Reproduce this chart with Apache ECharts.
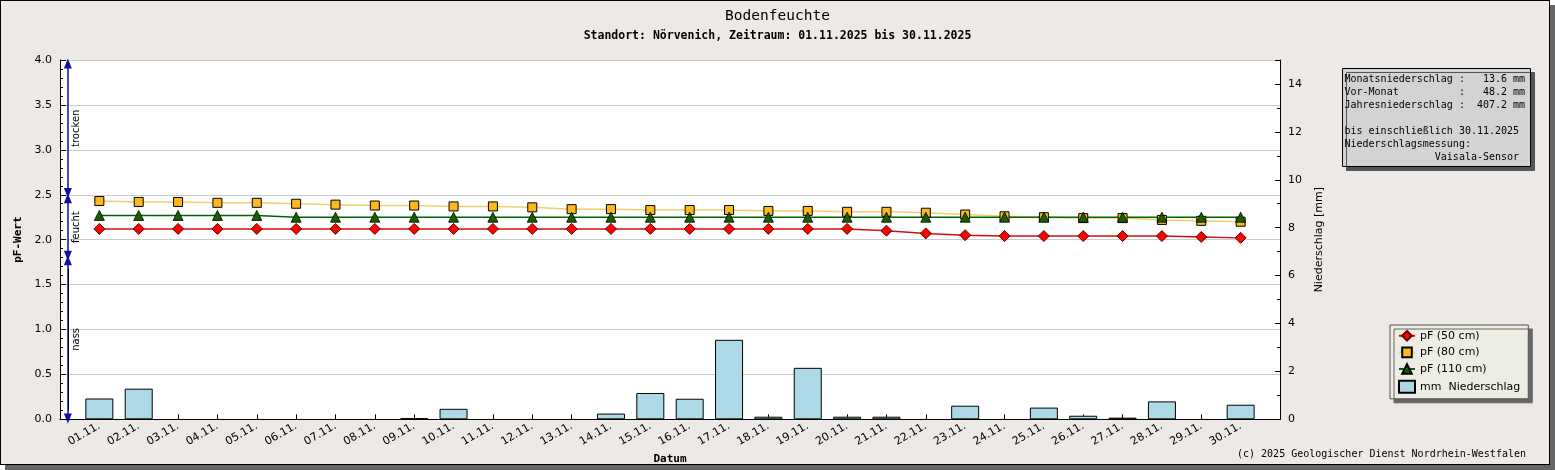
<!DOCTYPE html>
<html>
<head>
<meta charset="utf-8">
<script src="https://cdn.jsdelivr.net/npm/echarts@6/dist/echarts.min.js"></script>
<style>
    body { margin: 0; background: #fff; }
    #frame {
        position: absolute; left: 0; top: 0;
        width: 1548px; height: 463px;
        background: #ECE9E7;
        border: 1px solid #000;
        box-shadow: 5px 5px 0 #666;
    }
    #chart { position: absolute; left: 0; top: 0; width: 1555px; height: 470px; }
</style>
</head>
<body>
<div id="frame"></div>
<div id="chart"></div>
<script>
// Tage im November
var days = ['01.11.', '02.11.', '03.11.', '04.11.', '05.11.', '06.11.', '07.11.', '08.11.', '09.11.', '10.11.',
    '11.11.', '12.11.', '13.11.', '14.11.', '15.11.', '16.11.', '17.11.', '18.11.', '19.11.', '20.11.',
    '21.11.', '22.11.', '23.11.', '24.11.', '25.11.', '26.11.', '27.11.', '28.11.', '29.11.', '30.11.'];

var pf50 = [2.12, 2.12, 2.12, 2.12, 2.12, 2.12, 2.12, 2.12, 2.12, 2.12,
    2.12, 2.12, 2.12, 2.12, 2.12, 2.12, 2.12, 2.12, 2.12, 2.12,
    2.10, 2.07, 2.05, 2.04, 2.04, 2.04, 2.04, 2.04, 2.03, 2.02];

var pf80 = [2.43, 2.42, 2.42, 2.41, 2.41, 2.40, 2.39, 2.38, 2.38, 2.37,
    2.37, 2.36, 2.34, 2.34, 2.33, 2.33, 2.33, 2.32, 2.32, 2.31,
    2.31, 2.30, 2.28, 2.26, 2.25, 2.24, 2.24, 2.22, 2.21, 2.20];

var pf110 = [2.27, 2.27, 2.27, 2.27, 2.27, 2.25, 2.25, 2.25, 2.25, 2.25,
    2.25, 2.25, 2.25, 2.25, 2.25, 2.25, 2.25, 2.25, 2.25, 2.25,
    2.25, 2.25, 2.25, 2.25, 2.25, 2.25, 2.25, 2.25, 2.25, 2.25];

var rain = [0.87, 1.28, 0, 0, 0, 0, 0, 0, 0.05, 0.44,
    0, 0, 0, 0.24, 1.10, 0.86, 3.32, 0.11, 2.15, 0.11,
    0.11, 0, 0.57, 0, 0.49, 0.15, 0.07, 0.75, 0, 0.61];

var infoLines = [
    'Monatsniederschlag :   13.6 mm',
    'Vor-Monat          :   48.2 mm',
    'Jahresniederschlag :  407.2 mm',
    '',
    'bis einschließlich 30.11.2025',
    'Niederschlagsmessung:',
    '               Vaisala-Sensor'
];

function pairs(arr, skipZero) {
    var out = [];
    for (var i = 0; i < arr.length; i++) {
        // Tage ohne Niederschlag: kein Balken
        out.push([i + 1, (skipZero && arr[i] === 0) ? '-' : arr[i]]);
    }
    return out;
}

var sans = 'DejaVu Sans';
var mono = 'DejaVu Sans Mono';
var blue = '#1010a0';

var arrowX = 0.2;
// von unten nach oben, damit die Schrift rechts steht und nach oben liest
var annotations = [
    [{name: 'trocken', coord: [arrowX, 2.52]}, {coord: [arrowX, 3.96]}],
    [{name: 'feucht', coord: [arrowX, 1.82]}, {coord: [arrowX, 2.46]}],
    [{name: 'nass', coord: [arrowX, 0.01]}, {coord: [arrowX, 1.77]}],
    [{coord: [arrowX, 0.1], symbol: 'none'}, {coord: [arrowX, 1.68], symbol: 'none'}]
];
annotations[3][0].lineStyle = {color: '#000', width: 1, type: 'solid'};
annotations[3][0].label = {show: false};

var option = {
    animation: false,
    title: {
        text: 'Bodenfeuchte',
        subtext: 'Standort: Nörvenich, Zeitraum: 01.11.2025 bis 30.11.2025',
        left: 'center',
        top: 4,
        itemGap: 6,
        textStyle: {fontFamily: mono, fontSize: 14.5, fontWeight: 'normal', color: '#000'},
        subtextStyle: {fontFamily: mono, fontSize: 11.5, fontWeight: 'bold', color: '#000'}
    },
    legend: {
        orient: 'vertical',
        left: 1390,
        top: 325,
        data: [
            {name: 'pF (50 cm)'},
            {name: 'pF (80 cm)'},
            {name: 'pF (110 cm)'},
            {name: 'mm  Niederschlag', icon: 'rect'}
        ],
        itemWidth: 16,
        itemHeight: 12,
        itemGap: 5,
        padding: [5, 8, 5, 8],
        backgroundColor: '#EDEDE3',
        borderColor: '#555',
        borderWidth: 1,
        shadowColor: '#666',
        shadowOffsetX: 4,
        shadowOffsetY: 4,
        shadowBlur: 0,
        textStyle: {fontFamily: sans, fontSize: 11, color: '#000'}
    },
    grid: {
        left: 60, top: 60, width: 1220, height: 360,
        show: true, backgroundColor: '#fff', borderWidth: 0
    },
    xAxis: {
        type: 'value',
        min: 0, max: 31, interval: 1,
        name: 'Datum',
        nameLocation: 'middle',
        nameGap: 32,
        nameTextStyle: {fontFamily: mono, fontSize: 11, fontWeight: 'bold', color: '#000'},
        axisLine: {lineStyle: {color: '#000'}},
        axisTick: {inside: true, length: 5, lineStyle: {color: '#000'}},
        splitLine: {show: false},
        axisLabel: {
            rotate: 30,
            fontFamily: sans, fontSize: 11, color: '#000',
            margin: 6,
            formatter: function (v) {
                return (v >= 1 && v <= days.length) ? days[v - 1] : '';
            }
        }
    },
    yAxis: [
        {
            type: 'value',
            min: 0, max: 4, interval: 0.5,
            name: 'pF-Wert',
            nameLocation: 'middle',
            nameGap: 34,
            nameRotate: 90,
            nameTextStyle: {fontFamily: mono, fontSize: 11, fontWeight: 'bold', color: '#000'},
            axisLine: {show: true, lineStyle: {color: '#000'}},
            axisTick: {show: true, inside: true, length: 6, lineStyle: {color: '#000'}},
            minorTick: {show: true, splitNumber: 5, length: 3, lineStyle: {color: '#000'}},
            splitLine: {show: true, lineStyle: {color: '#cccccc'}},
            axisLabel: {
                fontFamily: sans, fontSize: 11, color: '#000', margin: 8,
                formatter: function (v) { return v.toFixed(1); }
            }
        },
        {
            type: 'value',
            min: 0, max: 15, interval: 2,
            position: 'right',
            name: 'Niederschlag [mm]',
            nameLocation: 'middle',
            nameGap: 34,
            nameRotate: 90,
            nameTextStyle: {fontFamily: sans, fontSize: 11, color: '#000'},
            axisLine: {show: true, lineStyle: {color: '#000'}},
            axisTick: {show: true, inside: true, length: 5, lineStyle: {color: '#000'}},
            minorTick: {show: true, splitNumber: 2, length: 3, lineStyle: {color: '#000'}},
            splitLine: {show: false},
            axisLabel: {
                fontFamily: sans, fontSize: 11, color: '#000', margin: 8,
                formatter: function (v) { return v % 2 === 0 ? String(v) : ''; }
            }
        }
    ],
    graphic: [
        {
            type: 'group',
            left: 1342,
            top: 68,
            children: [
                {
                    type: 'rect',
                    shape: {x: 0, y: 0, width: 188, height: 98},
                    style: {fill: '#D3D3D3', stroke: '#000', lineWidth: 1,
                        shadowColor: '#555', shadowOffsetX: 4, shadowOffsetY: 4, shadowBlur: 0}
                },
                {
                    type: 'text',
                    x: 2, y: 4,
                    style: {
                        text: infoLines.join('\n'),
                        font: '10px "DejaVu Sans Mono"',
                        lineHeight: 13,
                        fill: '#000'
                    }
                }
            ]
        },
        {
            type: 'text',
            left: 1237,
            top: 449,
            style: {
                text: '(c) 2025 Geologischer Dienst Nordrhein-Westfalen',
                font: '10px "DejaVu Sans Mono"',
                fill: '#000'
            }
        }
    ],
    series: [
        {
            name: 'mm  Niederschlag',
            type: 'bar',
            yAxisIndex: 1,
            barWidth: 28,
            data: pairs(rain, true),
            itemStyle: {color: '#ADD8E6', borderColor: '#000', borderWidth: 1}
        },
        {
            name: 'pF (80 cm)',
            type: 'line',
            data: pairs(pf80),
            symbol: 'rect',
            symbolSize: 9,
            lineStyle: {color: '#F2CF6E', width: 1.5},
            itemStyle: {color: '#FFB81C', borderColor: '#000', borderWidth: 1}
        },
        {
            name: 'pF (110 cm)',
            type: 'line',
            data: pairs(pf110),
            symbol: 'triangle',
            symbolSize: 10,
            lineStyle: {color: '#006400', width: 1.5},
            itemStyle: {color: '#166000', borderColor: '#000', borderWidth: 0.8}
        },
        {
            name: 'pF (50 cm)',
            type: 'line',
            data: pairs(pf50),
            symbol: 'diamond',
            symbolSize: 11,
            lineStyle: {color: '#D01010', width: 1.5},
            itemStyle: {color: '#FF0000', borderColor: '#600', borderWidth: 1},
            markLine: {
                silent: true,
                symbol: ['triangle', 'triangle'],
                symbolSize: [8, 10],
                lineStyle: {color: blue, width: 1.5, type: 'solid'},
                label: {
                    show: true,
                    formatter: '{b}',
                    position: 'insideMiddleBottom',
                    distance: 4,
                    fontFamily: sans, fontSize: 10, color: '#000'
                },
                emphasis: {disabled: true},
                data: annotations
            }
        }
    ]
};

var myChart = echarts.init(document.getElementById('chart'));
myChart.setOption(option);
</script>
</body>
</html>
